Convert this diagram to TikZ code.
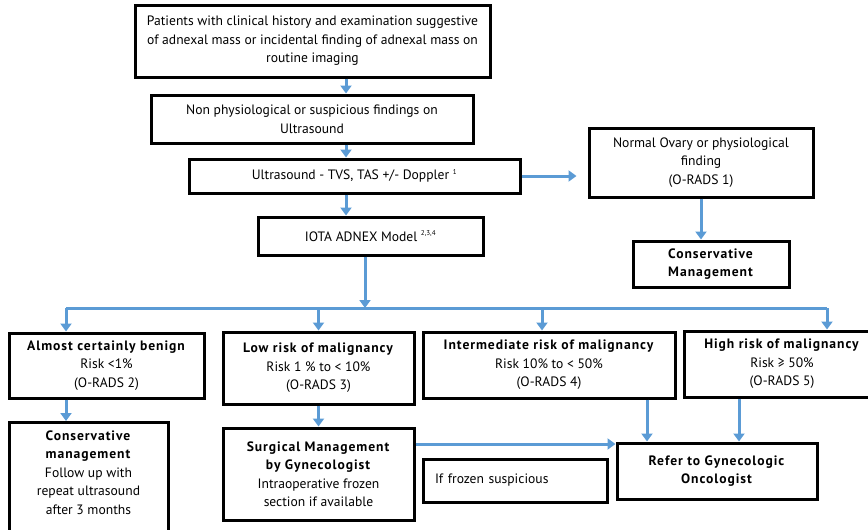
\documentclass[tikz,border=0pt]{standalone}
\usepackage[rgb]{xcolor}
\usepackage{fontspec}
\setmainfont{PT Sans}[BoldFeatures={LetterSpace=7}]
\usetikzlibrary{arrows.meta}
\definecolor{fc_blue}{HTML}{5B9BD5}

\tikzset{
    box/.style={draw=black, line width=3pt, align=center, inner sep=3pt,
        font=\fontsize{13.6}{18.5}\selectfont},
    link/.style={draw=fc_blue, line width=3pt, -{Triangle[width=11pt,length=8pt]}},
    bus/.style={draw=fc_blue, line width=3pt},
}

\begin{document}
\begin{tikzpicture}[x=1pt, y=-1pt]
        \useasboundingbox (0,0) rectangle (868,530);

        % work-up
        \node[box, minimum width=355, minimum height=72] (history) at (312.5, 41)
            {Patients with clinical history and examination suggestive\\
             of adnexal mass or incidental finding of adnexal mass on\\
             routine imaging};
        \node[box, minimum width=322, minimum height=48] (suspicious) at (312, 119)
            {Non physiological or suspicious findings on\\Ultrasound};
        \node[box, minimum width=331, minimum height=34] (us) at (354.5, 176)
            {Ultrasound - TVS, TAS +/- Doppler \textsuperscript{\scriptsize 1}};
        \node[box, minimum width=225, minimum height=38] (iota) at (370.5, 236)
            {IOTA ADNEX Model \textsuperscript{\scriptsize 2,3,4}};

        \node[box, minimum width=224, minimum height=69] (normal) at (701, 162.5)
            {Normal Ovary or physiological\\finding\\(O-RADS 1)};
        \node[box, minimum width=156, minimum height=46] (conservative) at (711, 264)
            {\textbf{Conservative}\\\textbf{Management}};

        % risk groups
        \node[box, minimum width=195, minimum height=65] (benign) at (106.5, 365.5)
            {\textbf{Almost certainly benign}\\Risk <1\%\\(O-RADS 2)};
        \node[box, minimum width=191, minimum height=72] (low) at (318.5, 368)
            {\textbf{Low risk of malignancy}\\Risk 1 \% to < 10\%\\(O-RADS 3)};
        \node[box, minimum width=252, minimum height=66] (inter) at (549, 365)
            {\textbf{Intermediate risk of malignancy}\\Risk 10\% to < 50\%\\(O-RADS 4)};
        \node[box, minimum width=196, minimum height=66] (high) at (782, 364)
            {\textbf{High risk of malignancy}\\Risk ≥ 50\%\\(O-RADS 5)};

        % management
        \node[box, anchor=north, minimum width=159, inner ysep=8pt] (followup) at (88.5, 421)
            {\textbf{Conservative}\\\textbf{management}\\Follow up with\\
             repeat ultrasound\\after 3 months\\[20pt]};
        \node[box, minimum width=191, minimum height=92] (surgical) at (318.5, 474)
            {\textbf{Surgical Management}\\\textbf{by Gynecologist}\\
             Intraoperative frozen\\section if available};
        \node[box, align=left, text width=160, inner xsep=12pt, minimum height=43] (frozen) at (515, 480.5)
            {If frozen suspicious};
        \node[box, minimum width=200, minimum height=56] (refer) at (717, 471)
            {\textbf{Refer to Gynecologic}\\\textbf{Oncologist}};

        \coordinate (spine) at (346, 0);
        \coordinate (split) at (365, 308);
        \coordinate (busL) at (66, 308);
        \coordinate (busR) at (827, 308);
        \coordinate (interdrop) at (647, 0);
        \coordinate (highdrop) at (739, 0);
        \coordinate (frzline) at (0, 444);

        \draw[link] (spine |- history.south) -- (spine |- suspicious.north);
        \draw[link] (spine |- suspicious.south) -- (spine |- us.north);
        \draw[link] (spine |- us.south) -- (spine |- iota.north);
        \draw[link, shorten >=11pt] (us.east) -- (normal.west |- us.east);
        \draw[link] (normal.south) -- (normal.south |- conservative.north);

        \draw[link] (split |- iota.south) -- (split);
        \draw[bus] (busL) -- (busR);
        \draw[link] (busL) -- (busL |- benign.north);
        \draw[link] (split -| low) -- (low.north);
        \draw[link] (split -| inter.north) ++(-7,0) -- (inter.north -| 542,0);
        \draw[link] (busR) -- (busR |- high.north);

        \draw[link] (busL |- benign.south) -- (busL |- followup.north);
        \draw[link] (low.south) -- (surgical.north);
        \draw[link] (interdrop |- inter.south) -- (interdrop |- refer.north);
        \draw[link] (highdrop |- high.south) -- (highdrop |- refer.north);
        \draw[link] (surgical.east |- frzline) -- (refer.west |- frzline);

\end{tikzpicture}
\end{document}
